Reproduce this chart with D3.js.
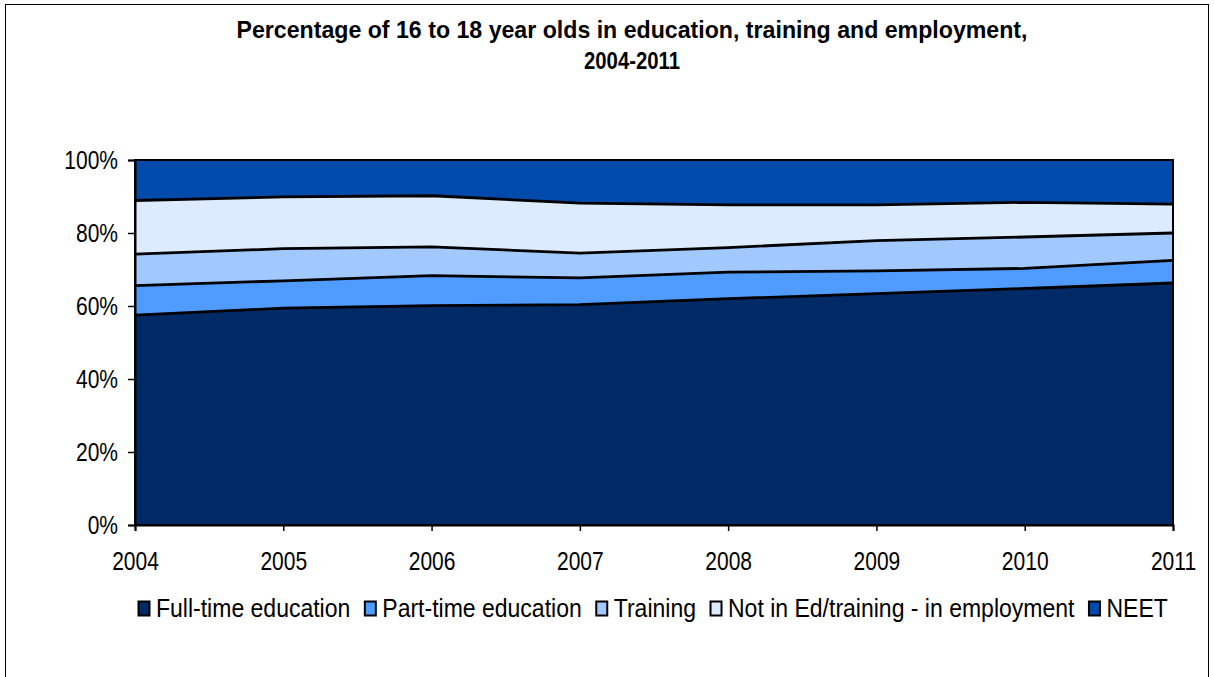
<!DOCTYPE html>
<html><head><meta charset="utf-8">
<script src="https://cdn.jsdelivr.net/npm/d3@7"></script>
<style>body{margin:0;background:#fff}svg{display:block}</style>
</head><body>
<svg id="c" width="1214" height="677"></svg>
<script>
const years = ["2004","2005","2006","2007","2008","2009","2010","2011"];
const seriesNames = ["Full-time education","Part-time education","Training","Not in Ed/training - in employment","NEET"];
const fullTime   = [57.5, 59.4, 60.1, 60.4, 62.0, 63.4, 64.8, 66.3];
const partTime   = [8.1, 7.5, 8.2, 7.3, 7.3, 6.2, 5.5, 6.2];
const training   = [8.6, 8.8, 7.9, 6.8, 6.7, 8.3, 8.6, 7.5];
const employment = [14.7, 14.2, 14.0, 13.7, 11.7, 9.8, 9.5, 7.9];
const neet       = [11.1, 10.1, 9.8, 11.8, 12.3, 12.3, 11.6, 12.1];
const yTicks = [0, 20, 40, 60, 80, 100];
const colors = ["#002a66", "#4f9bff", "#a1c9ff", "#ddebff", "#004aab"];

const seriesVals = [fullTime, partTime, training, employment, neet];
const rows = years.map((y, i) => {
  const r = {year: y};
  seriesNames.forEach((n, k) => r[n] = seriesVals[k][i]);
  return r;
});

const svg = d3.select("#c");
const font = "'Liberation Sans', Arial, sans-serif";
function condense(sel, f) {
  let total = 0;
  sel.each(function () {
    const w = this.getComputedTextLength();
    total = w * f;
    d3.select(this).attr("textLength", w * f).attr("lengthAdjust", "spacingAndGlyphs");
  });
  return total;
}

// outer border
svg.append("rect").attr("x", 5.5).attr("y", 4.5).attr("width", 1203).attr("height", 700)
  .attr("fill", "#fff").attr("stroke", "#000").attr("stroke-width", 1);

const L = 135, R = 1173, T = 160, B = 525;
const x = d3.scalePoint().domain(years).range([L, R]);
const y = d3.scaleLinear().domain([0, 100]).range([B, T]);

// title
const title = svg.append("text").attr("text-anchor", "middle").attr("font-family", font)
  .attr("font-weight", "bold").attr("font-size", 24).attr("fill", "#000");
const t1 = title.append("tspan").attr("x", 632).attr("y", 38).text("Percentage of 16 to 18 year olds in education, training and employment,");
const t2 = title.append("tspan").attr("x", 632).attr("y", 69).text("2004-2011");
t1.attr("textLength", 791).attr("lengthAdjust", "spacingAndGlyphs");
t2.attr("textLength", 96).attr("lengthAdjust", "spacingAndGlyphs");

const stack = d3.stack().keys(seriesNames).offset(d3.stackOffsetExpand);
const layers = stack(rows);

const area = d3.area().x(d => x(d.data.year)).y0(d => y(d[0] * 100)).y1(d => y(d[1] * 100));
svg.append("g").selectAll("path").data(layers).join("path")
  .attr("d", area).attr("fill", (d, i) => colors[i]).attr("stroke", "none");

const line = d3.line().x(d => x(d.data.year)).y(d => y(d[1] * 100));
svg.append("g").selectAll("path").data(layers.slice(0, 4)).join("path")
  .attr("d", line).attr("fill", "none").attr("stroke", "#000").attr("stroke-width", 2.8)
  .attr("stroke-linejoin", "round");

// plot frame
svg.append("rect").attr("x", L).attr("y", T).attr("width", R - L).attr("height", B - T)
  .attr("fill", "none").attr("stroke", "#000").attr("stroke-width", 2);

// y axis
const yAxis = svg.append("g").attr("transform", `translate(${L},0)`)
  .call(d3.axisLeft(y).tickValues(yTicks).tickFormat(d => d + "%").tickSize(7).tickPadding(10));
yAxis.select(".domain").attr("stroke", "#000").attr("stroke-width", 2);
yAxis.selectAll("text").attr("font-family", font).attr("font-size", 25).attr("fill", "#000");
condense(yAxis.selectAll("text"), 0.84);
yAxis.selectAll("line").attr("stroke", "#000").attr("stroke-width", 1.5);

// x axis
const xAxis = svg.append("g").attr("transform", `translate(0,${B})`)
  .call(d3.axisBottom(x).tickSize(6).tickPadding(21));
xAxis.select(".domain").attr("stroke", "#000").attr("stroke-width", 2);
xAxis.selectAll("text").attr("font-family", font).attr("font-size", 25).attr("fill", "#000");
condense(xAxis.selectAll("text"), 0.84);
xAxis.selectAll("line").attr("stroke", "#000").attr("stroke-width", 1.5);

// legend
const lg = svg.append("g");
let lx = 138;
seriesNames.forEach((n, i) => {
  lg.append("rect").attr("x", lx + 0.5).attr("y", 601.5).attr("width", 11).attr("height", 14)
    .attr("fill", colors[i]).attr("stroke", "#000").attr("stroke-width", 2);
  const t = lg.append("text").attr("x", lx + 18).attr("y", 617).attr("font-family", font)
    .attr("font-size", 25).attr("fill", "#000").text(n);
  const w = condense(t, 0.92);
  lx += 18 + w + 14;
});
</script>
</body></html>
